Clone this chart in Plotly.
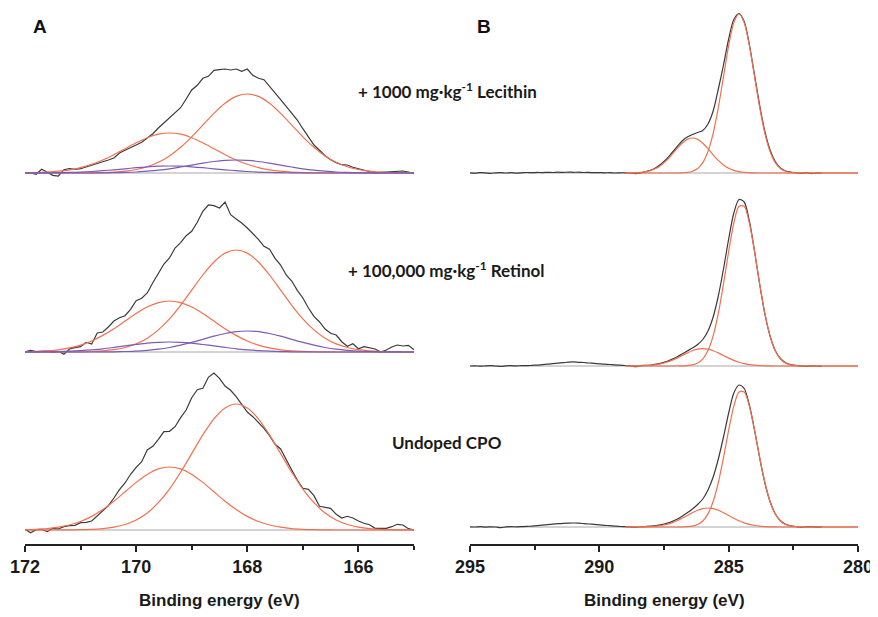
import plotly.graph_objects as go

# ---------------- DATA ----------------
# Panel A (S 2p region), black spectra sampled every 0.1 eV
energy_a_fine = [172.0, 171.9, 171.8, 171.7, 171.6, 171.5, 171.4, 171.3, 171.2, 171.1,
                 171.0, 170.9, 170.8, 170.7, 170.6, 170.5, 170.4, 170.3, 170.2, 170.1,
                 170.0, 169.9, 169.8, 169.7, 169.6, 169.5, 169.4, 169.3, 169.2, 169.1,
                 169.0, 168.9, 168.8, 168.7, 168.6, 168.5, 168.4, 168.3, 168.2, 168.1,
                 168.0, 167.9, 167.8, 167.7, 167.6, 167.5, 167.4, 167.3, 167.2, 167.1,
                 167.0, 166.9, 166.8, 166.7, 166.6, 166.5, 166.4, 166.3, 166.2, 166.1,
                 166.0, 165.9, 165.8, 165.7, 165.6, 165.5, 165.4, 165.3, 165.2, 165.1,
                 165.0]
a_lecithin = [0, 0.3, -1.3, 3.7, 0.7, -2.3, -3.0, 3.3, 4.3, 3.7,
              4.3, 6.0, 8.0, 9.0, 11.3, 13.0, 15.0, 20.0, 22.7, 25.7,
              28.0, 30.7, 35.0, 39.3, 45.0, 50.3, 55.3, 60.0, 65.3, 74.0,
              83.0, 87.7, 94.7, 96.7, 102.7, 103.3, 104.0, 103.0, 104.0, 101.7,
              104.0, 97.7, 94.7, 93.3, 87.0, 80.7, 73.3, 66.7, 60.0, 53.0,
              44.3, 36.3, 28.0, 22.7, 17.3, 13.3, 10.3, 8.3, 8.0, 5.7,
              4.3, 3.3, 2.0, 0.0, 0.7, 1.0, 1.0, 1.3, 2.0, 1.0, -0.7]
a_retinol = [0, 1.7, 0.3, 0.3, 1.0, -0.3, 0.7, -2.3, 3.0, 4.3,
             5.3, 9.7, 8.0, 19.0, 20.0, 25.0, 31.0, 34.3, 36.3, 42.7,
             51.3, 53.7, 59.0, 69.3, 79.3, 88.0, 94.0, 104.0, 109.3, 116.3,
             120.7, 129.7, 140.7, 147.0, 146.3, 144.0, 150.0, 137.3, 133.0, 129.0,
             124.0, 118.3, 112.7, 105.7, 102.7, 93.7, 87.0, 77.0, 71.0, 61.7,
             54.0, 44.0, 35.7, 30.0, 23.0, 18.7, 17.0, 10.3, 5.7, 8.3,
             3.3, 5.3, 4.3, 3.0, 0.0, 2.0, 5.0, 7.0, 6.0, 6.7, 2.3]
a_undoped = [0.7, -2.7, 0.3, 0.7, -1.7, 1.7, 1.0, 3.3, 4.3, 4.7,
             7.3, 7.7, 9.0, 14.3, 19.0, 24.3, 32.0, 40.3, 47.0, 55.7,
             62.7, 68.3, 80.0, 83.7, 90.7, 98.3, 98.7, 103.3, 112.3, 120.0,
             132.3, 140.3, 141.7, 152.7, 157.0, 151.7, 144.0, 139.7, 133.3, 125.0,
             118.0, 113.3, 107.7, 101.7, 94.3, 85.7, 81.0, 69.7, 60.0, 50.0,
             41.7, 40.7, 34.3, 23.7, 23.0, 21.7, 15.7, 12.0, 13.7, 12.0,
             9.0, 6.7, 5.3, 1.7, 1.7, 1.7, 3.3, 5.7, 5.0, 1.3, 0.0]

# Panel A fitted components, sampled every 0.2 eV
energy_a = [172.0, 171.8, 171.6, 171.4, 171.2, 171.0, 170.8, 170.6, 170.4, 170.2,
            170.0, 169.8, 169.6, 169.4, 169.2, 169.0, 168.8, 168.6, 168.4, 168.2,
            168.0, 167.8, 167.6, 167.4, 167.2, 167.0, 166.8, 166.6, 166.4, 166.2,
            166.0, 165.8, 165.6, 165.4, 165.2, 165.0]
lec_orange_1 = [0, 0, 0, 0, 0, 0.1, 0.2, 0.4, 0.9, 1.8, 3.5, 6.3, 10.7, 17.1, 25.7, 36.2, 47.9, 59.6,
                69.7, 76.6, 79.0, 76.6, 69.7, 59.6, 47.9, 36.2, 25.7, 17.1, 10.7, 6.3, 3.5, 1.8, 0.9, 0.4, 0.2, 0.1]
lec_orange_2 = [0.2, 0.4, 0.9, 1.8, 3.2, 5.4, 8.7, 13.0, 18.3, 24.3, 30.2, 35.3, 38.8, 40.0, 38.8, 35.3, 30.2, 24.3,
                18.3, 13.0, 8.7, 5.4, 3.2, 1.8, 0.9, 0.4, 0.2, 0.1, 0, 0, 0, 0, 0, 0, 0, 0]
lec_purple_1 = [0, 0, 0, 0, 0, 0, 0, 0.1, 0.3, 0.6, 1.0, 1.8, 2.8, 4.2, 6.0, 7.9, 9.8, 11.5,
                12.6, 13.0, 12.6, 11.5, 9.8, 7.9, 6.0, 4.2, 2.8, 1.8, 1.0, 0.6, 0.3, 0.1, 0, 0, 0, 0]
lec_purple_2 = [0, 0.1, 0.2, 0.3, 0.6, 0.9, 1.5, 2.3, 3.2, 4.2, 5.3, 6.2, 6.8, 7.0, 6.8, 6.2, 5.3, 4.2,
                3.2, 2.3, 1.5, 0.9, 0.6, 0.3, 0.2, 0.1, 0, 0, 0, 0, 0, 0, 0, 0, 0, 0]
ret_orange_1 = [0, 0, 0, 0, 0.1, 0.2, 0.5, 1.1, 2.3, 4.5, 8.1, 13.8, 22.1, 33.1, 46.7, 61.9, 77.0, 90.0,
                98.9, 102.0, 98.9, 90.0, 77.0, 61.9, 46.7, 33.1, 22.1, 13.8, 8.1, 4.5, 2.3, 1.1, 0.5, 0.2, 0.1, 0]
ret_orange_2 = [0.3, 0.6, 1.2, 2.2, 4.1, 6.9, 11.0, 16.6, 23.3, 30.9, 38.5, 45.0, 49.4, 51.0, 49.4, 45.0, 38.5, 30.9,
                23.3, 16.6, 11.0, 6.9, 4.1, 2.2, 1.2, 0.6, 0.3, 0.1, 0, 0, 0, 0, 0, 0, 0, 0]
ret_purple_1 = [0, 0, 0, 0, 0, 0, 0, 0.1, 0.2, 0.5, 0.9, 1.7, 2.8, 4.5, 6.8, 9.6, 12.7, 15.9,
                18.5, 20.4, 21.0, 20.4, 18.5, 15.9, 12.7, 9.6, 6.8, 4.5, 2.8, 1.7, 0.9, 0.5, 0.2, 0.1, 0, 0]
ret_purple_2 = [0, 0.1, 0.2, 0.4, 0.8, 1.4, 2.2, 3.2, 4.6, 6.1, 7.5, 8.8, 9.7, 10.0, 9.7, 8.8, 7.5, 6.1,
                4.6, 3.2, 2.2, 1.4, 0.8, 0.4, 0.2, 0.1, 0, 0, 0, 0, 0, 0, 0, 0, 0, 0]
und_orange_1 = [0, 0, 0, 0, 0.1, 0.3, 0.6, 1.4, 2.9, 5.5, 10.0, 17.0, 27.3, 40.9, 57.7, 76.4, 95.1, 111.2,
                122.1, 126.0, 122.1, 111.2, 95.1, 76.4, 57.7, 40.9, 27.3, 17.0, 10.0, 5.5, 2.9, 1.4, 0.6, 0.3, 0.1, 0]
und_orange_2 = [0.3, 0.7, 1.4, 2.8, 5.0, 8.5, 13.6, 20.5, 28.8, 38.2, 47.6, 55.6, 61.1, 63.0, 61.1, 55.6, 47.6, 38.2,
                28.8, 20.5, 13.6, 8.5, 5.0, 2.8, 1.4, 0.7, 0.3, 0.1, 0, 0, 0, 0, 0, 0, 0, 0]

# Panel B (C 1s region), black spectra sampled every 0.2 eV
energy_b = [295.0, 294.8, 294.6, 294.4, 294.2, 294.0, 293.8, 293.6, 293.4, 293.2,
            293.0, 292.8, 292.6, 292.4, 292.2, 292.0, 291.8, 291.6, 291.4, 291.2,
            291.0, 290.8, 290.6, 290.4, 290.2, 290.0, 289.8, 289.6, 289.4, 289.2,
            289.0, 288.8, 288.6, 288.4, 288.2, 288.0, 287.8, 287.6, 287.4, 287.2,
            287.0, 286.8, 286.6, 286.4, 286.2, 286.0, 285.8, 285.6, 285.4, 285.2,
            285.0, 284.8, 284.6, 284.4, 284.2, 284.0, 283.8, 283.6, 283.4, 283.2,
            283.0, 282.8, 282.6, 282.4, 282.2, 282.0, 281.8, 281.6, 281.4]
b_lecithin = [0.2, -0.2, 0.3, 0.1, -0.3, 0.2, 0.4, 0.0, 0.3, -0.2,
              0.2, 0.5, 0.3, 0.6, 0.4, 0.7, 0.5, 0.8, 0.6, 0.9,
              0.7, 0.8, 0.5, 0.6, 0.3, 0.4, 0.2, 0.3, 0.0, 0.2,
              0.2, 0.0, -0.6, 0.2, 1.5, 3.0, 5.6, 9.3, 14.0, 20.0,
              26.0, 32.0, 36.0, 38.5, 40.5, 42.5, 49.0, 62.0, 84.0, 108.0,
              134.0, 153.5, 159.5, 151.5, 128.5, 98.0, 67.5, 41.5, 23.0, 11.5,
              5.0, 2.0, 0.8, 0.3, -0.3, 0.2, -0.6, 0.1, 0.0]
b_retinol = [0.0, 0.2, -0.2, 0.1, 0.3, 0.0, -0.3, 0.2, 0.3, 0.1,
             0.4, 0.3, 0.7, 0.9, 1.4, 1.8, 2.4, 2.9, 3.3, 3.8,
             4.1, 3.7, 3.5, 3.0, 2.6, 2.2, 1.8, 1.5, 1.1, 0.8,
             0.5, 0.3, -0.6, 0.4, 0.6, 1.0, 1.8, 2.9, 4.5, 6.6,
             9.0, 12.0, 15.0, 18.0, 21.5, 26.5, 35.0, 49.0, 70.0, 97.0,
             127.0, 153.0, 166.5, 164.0, 145.0, 115.0, 81.5, 52.0, 30.0, 15.5,
             7.5, 3.2, 1.3, 0.6, 0.1, -0.4, 0.2, 0.0, -0.3]
b_undoped = [0.2, 0.0, 0.3, -0.1, 0.2, 0.0, -0.7, 0.1, 0.3, 0.2,
             0.4, 0.6, 0.9, 1.3, 1.8, 2.3, 2.8, 3.3, 3.7, 3.9,
             4.0, 3.8, 3.4, 3.0, 2.6, 2.1, 1.7, 1.3, 0.9, 0.5,
             0.4, 0.2, -0.4, 0.3, 0.5, 0.8, 1.4, 2.3, 3.6, 5.4,
             7.8, 10.8, 14.2, 18.0, 22.5, 28.0, 37.0, 50.0, 68.0, 90.0,
             114.0, 134.0, 142.0, 138.5, 122.0, 97.0, 69.0, 44.0, 25.5, 13.2,
             6.3, 2.8, 1.2, 0.5, -0.3, 0.2, 0.4, -0.2, 0.1]

# Panel B fitted components, sampled every 0.2 eV
energy_b_fit = [289.0, 288.8, 288.6, 288.4, 288.2, 288.0, 287.8, 287.6, 287.4, 287.2,
                287.0, 286.8, 286.6, 286.4, 286.2, 286.0, 285.8, 285.6, 285.4, 285.2,
                285.0, 284.8, 284.6, 284.4, 284.2, 284.0, 283.8, 283.6, 283.4, 283.2,
                283.0, 282.8, 282.6, 282.4, 282.2, 282.0, 281.8, 281.6, 281.4, 281.2,
                281.0, 280.8, 280.6, 280.4, 280.2, 280.0]
b_lec_main = [0, 0, 0, 0, 0, 0, 0, 0, 0, 0, 0, 0.2, 0.6, 1.8, 4.5, 10.4, 21.5, 39.7, 65.4, 96.4,
              127.3, 150.4, 159.0, 150.4, 127.3, 96.4, 65.4, 39.7, 21.5, 10.4, 4.5, 1.8, 0.6, 0.2,
              0, 0, 0, 0, 0, 0, 0, 0, 0, 0, 0, 0]
b_lec_side = [0, 0.1, 0.3, 0.6, 1.3, 2.6, 4.7, 8.1, 12.6, 18.2, 24.3, 29.7, 33.6, 35.0, 33.6, 29.7, 24.3, 18.2,
              12.6, 8.1, 4.7, 2.6, 1.3, 0.6, 0.3, 0.1, 0, 0, 0, 0, 0, 0, 0, 0, 0, 0, 0, 0, 0, 0, 0, 0, 0, 0, 0, 0]
b_ret_main = [0, 0, 0, 0, 0, 0, 0, 0, 0, 0, 0, 0.1, 0.4, 1.1, 2.9, 7.1, 15.5, 30.1, 52.6, 82.0,
              114.5, 143.0, 159.7, 159.7, 143.0, 114.5, 82.0, 52.6, 30.1, 15.5, 7.1, 2.9, 1.1, 0.4, 0.1,
              0, 0, 0, 0, 0, 0, 0, 0, 0, 0, 0]
b_ret_side = [0, 0, 0.1, 0.2, 0.4, 0.8, 1.4, 2.3, 3.7, 5.6, 7.9, 10.5, 13.1, 15.3, 16.8, 17.3, 16.8, 15.3,
              13.1, 10.5, 7.9, 5.6, 3.7, 2.3, 1.4, 0.8, 0.4, 0.2, 0.1, 0, 0, 0, 0, 0, 0, 0, 0, 0, 0, 0, 0, 0, 0, 0, 0, 0]
b_und_main = [0, 0, 0, 0, 0, 0, 0, 0, 0, 0, 0, 0.1, 0.3, 0.9, 2.5, 6.0, 13.1, 25.5, 44.5, 69.3,
              96.9, 120.9, 135.1, 135.1, 120.9, 96.9, 69.3, 44.5, 25.5, 13.1, 6.0, 2.5, 0.9, 0.3, 0.1,
              0, 0, 0, 0, 0, 0, 0, 0, 0, 0, 0]
b_und_side = [0, 0, 0, 0.1, 0.2, 0.4, 0.8, 1.5, 2.6, 4.1, 6.2, 8.7, 11.5, 14.3, 16.8, 18.4, 19.0, 18.4,
              16.8, 14.3, 11.5, 8.7, 6.2, 4.1, 2.6, 1.5, 0.8, 0.4, 0.2, 0.1, 0, 0, 0, 0, 0, 0, 0, 0, 0, 0, 0, 0, 0, 0, 0, 0]

ticks_a = [172, 170, 168, 166]
minor_a = [171, 169, 167, 165]
ticks_b = [295, 290, 285, 280]
minor_b = [292.5, 287.5, 282.5]
labels = ["+ 1000 mg·kg<sup>-1</sup> Lecithin", "+ 100,000 mg·kg<sup>-1</sup> Retinol", "Undoped CPO"]
axis_title = "Binding energy (eV)"

# ---------------- STYLE / LAYOUT ----------------
# the page body has an 8 px margin, so the figure is placed at (8, 8)
OFF = 8
W, H = 878 - OFF, 617 - OFF
BLACK = "#3a3a3a"
ORANGE = "#f2704e"
PURPLE = "#7d5cb6"
BASE = "#a8a8a8"


def fx(px):
    return (px - OFF) / W


def fy(py):
    return 1 - (py - OFF) / H


def dom(top_px, bottom_px):
    return [fy(bottom_px), fy(top_px)]


fig = go.Figure()


def add_line(x, y, xa, ya, color, width=1.2, shape="linear"):
    fig.add_trace(go.Scatter(x=x, y=y, xaxis=xa, yaxis=ya, mode="lines",
                             line=dict(color=color, width=width, shape=shape, smoothing=0.8),
                             hoverinfo="skip", showlegend=False))


rows_a = [
    ("y3", a_lecithin, [(lec_orange_1, ORANGE), (lec_orange_2, ORANGE), (lec_purple_1, PURPLE), (lec_purple_2, PURPLE)]),
    ("y2", a_retinol, [(ret_orange_1, ORANGE), (ret_orange_2, ORANGE), (ret_purple_1, PURPLE), (ret_purple_2, PURPLE)]),
    ("y", a_undoped, [(und_orange_1, ORANGE), (und_orange_2, ORANGE)]),
]
for ya, black, comps in rows_a:
    add_line([energy_a_fine[0], energy_a_fine[-1]], [0, 0], "x", ya, BASE, 1.0)
    add_line(energy_a_fine, black, "x", ya, BLACK, 1.2)
    for vals, col in comps:
        add_line(energy_a, vals, "x", ya, col, 1.2, "spline")

rows_b = [
    ("y6", b_lecithin, [b_lec_side, b_lec_main]),
    ("y5", b_retinol, [b_ret_side, b_ret_main]),
    ("y4", b_undoped, [b_und_side, b_und_main]),
]
for ya, black, comps in rows_b:
    add_line([energy_b[0], energy_b_fit[-1]], [0, 0], "x2", ya, BASE, 1.0)
    add_line(energy_b, black, "x2", ya, BLACK, 1.2, "spline")
    for vals in comps:
        add_line(energy_b_fit, vals, "x2", ya, ORANGE, 1.2, "spline")

xcommon = dict(showline=True, linecolor="#222222", linewidth=1.6, ticks="outside",
               ticklen=6, tickwidth=1.6, tickcolor="#222222", showgrid=False, zeroline=False,
               automargin=False,
               tickfont=dict(family="Liberation Sans", size=18, color="#1a1a1a", weight="bold"))
hidden = dict(visible=False, showgrid=False, zeroline=False, automargin=False)

fig.update_layout(
    width=W, height=H, autosize=False,
    margin=dict(l=0, r=0, t=0, b=0, autoexpand=False),
    paper_bgcolor="white", plot_bgcolor="rgba(0,0,0,0)",
    xaxis=dict(domain=[fx(25), fx(414)], range=[172, 165], anchor="y",
               tickvals=ticks_a, ticktext=[str(t) for t in ticks_a],
               minor=dict(tickvals=minor_a, ticklen=4, tickwidth=1.6, tickcolor="#222222", ticks="outside"),
               **xcommon),
    xaxis2=dict(domain=[fx(470), fx(858)], range=[295, 280], anchor="y4",
                tickvals=ticks_b, ticktext=[str(t) for t in ticks_b],
                minor=dict(tickvals=minor_b, ticklen=4, tickwidth=1.6, tickcolor="#222222", ticks="outside"),
                **xcommon),
    yaxis=dict(domain=dom(365, 544), range=[-14, 165], anchor="x", **hidden),
    yaxis2=dict(domain=dom(192, 360), range=[-8, 160], anchor="x", **hidden),
    yaxis3=dict(domain=dom(63, 181), range=[-8, 110], anchor="x", **hidden),
    yaxis4=dict(domain=dom(382, 544), range=[-17, 145], anchor="x2", **hidden),
    yaxis5=dict(domain=dom(194, 374), range=[-8, 172], anchor="x2", **hidden),
    yaxis6=dict(domain=dom(8, 181), range=[-8, 165], anchor="x2", **hidden),
)

ann_font = dict(family="Lato", size=17, color="#1a1a1a", weight="bold")
label_pos = [(356, 90), (346, 270), (390, 442)]
for text, (px, py) in zip(labels, label_pos):
    fig.add_annotation(text=text, x=fx(px), y=fy(py), xref="paper", yref="paper",
                       xanchor="left", yanchor="middle", showarrow=False, font=ann_font)

for text, px in [("A", 40), ("B", 484)]:
    fig.add_annotation(text=text, x=fx(px), y=fy(27), xref="paper", yref="paper",
                       xanchor="center", yanchor="middle", showarrow=False,
                       font=dict(family="Liberation Sans", size=19, color="#111111", weight="bold"))

for px in [219.5, 664]:
    fig.add_annotation(text=axis_title, x=fx(px), y=fy(600), xref="paper", yref="paper",
                       xanchor="center", yanchor="middle", showarrow=False,
                       font=dict(family="Liberation Sans", size=17, color="#1a1a1a", weight="bold"))

fig.write_html("out.html")
